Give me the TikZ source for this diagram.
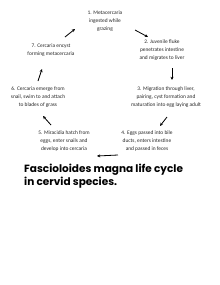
\documentclass[tikz,border=0pt]{standalone}
\usepackage{fontspec}
\setmainfont{Carlito}
\newfontfamily\titlefont{Poppins}
\usetikzlibrary{arrows.meta}
\begin{document}
\begin{tikzpicture}[x=1pt,y=-1pt,
  stage/.style={align=center,font=\fontsize{5.4}{7.8}\selectfont,inner sep=0pt,text=black!85},
  cyc/.style={draw=black,line width=0.8pt,-{Stealth[length=3.2pt,width=3pt]}}]
\useasboundingbox (0,0) rectangle (220,285);
\node[stage] (n1) at (105,21) {1. Metacercaria\\ingested while\\grazing};
\node[stage] (n2) at (162,50) {2. Juvenile fluke\\penetrates intestine\\and migrates to liver};
\node[stage] (n3) at (166,97) {3. Migration through liver,\\pairing, cyst formation and\\maturation into egg laying adult};
\node[stage] (n4) at (147,141) {4. Eggs passed into bile\\ducts, enters intestine\\and passed in feces};
\node[stage] (n5) at (64,141) {5. Miracidia hatch from\\eggs, enter snails and\\develop into cercaria};
\node[stage] (n6) at (38,97) {6. Cercaria emerge from\\snail, swim to and attach\\to blades of grass};
\node[stage] (n7) at (51,50.5) {7. Cercaria encyst\\forming metacercaria};
\coordinate (a12s) at (135,30); \coordinate (a12e) at (148,37);
\coordinate (a23s) at (172,68); \coordinate (a23e) at (172,80);
\coordinate (a34s) at (167,117); \coordinate (a34e) at (160,126);
\coordinate (a45s) at (118,155); \coordinate (a45e) at (97,156);
\coordinate (a56s) at (51,125); \coordinate (a56e) at (43,116);
\coordinate (a67s) at (38,81); \coordinate (a67e) at (42,69);
\coordinate (a71s) at (65,37); \coordinate (a71e) at (75,29);
\draw[cyc] (a12s) -- (a12e);
\draw[cyc] (a23s) -- (a23e);
\draw[cyc] (a34s) -- (a34e);
\draw[cyc] (a45s) -- (a45e);
\draw[cyc] (a56s) -- (a56e);
\draw[cyc] (a67s) -- (a67e);
\draw[cyc] (a71s) -- (a71e);
\node[anchor=north west,align=left,inner sep=0pt,font=\titlefont\bfseries\fontsize{10.5}{13}\selectfont] (title) at (24,164) {Fascioloides magna life cycle\\in cervid species.};
\end{tikzpicture}
\end{document}
